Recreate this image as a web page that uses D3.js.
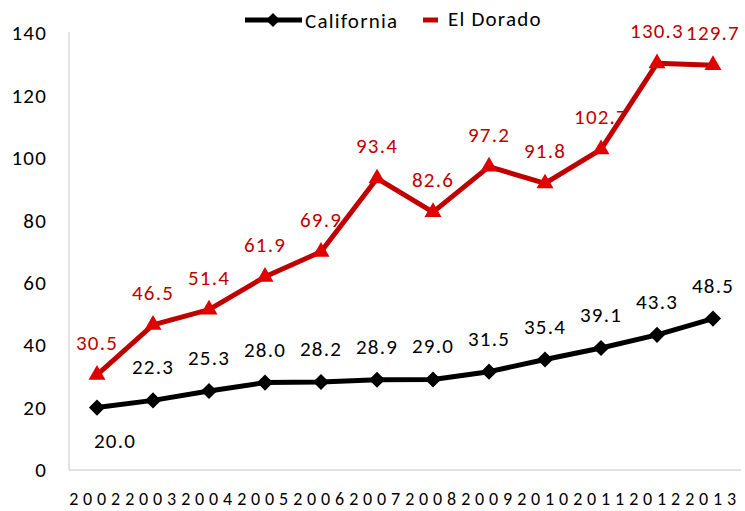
<!DOCTYPE html>
<html lang="en">
<head>
<meta charset="utf-8">
<style>
  body { margin: 0; background: #fff; }
  svg text { font-family: Carlito, Calibri, Lato, "Open Sans", sans-serif; }
</style>
</head>
<body>
<div id="chart"></div>
<script src="https://cdnjs.cloudflare.com/ajax/libs/d3/7.8.5/d3.min.js"></script>
<script>
const years = ["2002", "2003", "2004", "2005", "2006", "2007", "2008", "2009", "2010", "2011", "2012", "2013"];
const california = [20.0, 22.3, 25.3, 28.0, 28.2, 28.9, 29.0, 31.5, 35.4, 39.1, 43.3, 48.5];
const elDorado = [30.5, 46.5, 51.4, 61.9, 69.9, 93.4, 82.6, 97.2, 91.8, 102.7, 130.3, 129.7];
const yTicks = [0, 20, 40, 60, 80, 100, 120, 140];

const width = 745, height = 511;
const plotLeft = 69, plotRight = 741, plotTop = 33, plotBottom = 470;
const black = "#000000", red = "#C00000", redFill = "#E00000";
const fs = 21, ls = 1.2;

const svg = d3.select("#chart")
  .append("svg")
  .attr("width", width)
  .attr("height", height);

const x = d3.scaleBand()
  .domain(years)
  .range([plotLeft, plotRight]);

const y = d3.scaleLinear()
  .domain([0, 140])
  .range([plotBottom, plotTop]);

const cx = d => x(d) + x.bandwidth() / 2;

// axis lines (light grey, no gridlines)
svg.append("line")
  .attr("x1", plotLeft).attr("x2", plotLeft)
  .attr("y1", plotTop - 1).attr("y2", plotBottom)
  .attr("stroke", "#d9d9d9").attr("stroke-width", 1.5);
svg.append("line")
  .attr("x1", plotLeft).attr("x2", plotRight)
  .attr("y1", plotBottom).attr("y2", plotBottom)
  .attr("stroke", "#d9d9d9").attr("stroke-width", 1.5);

// y tick labels
svg.append("g")
  .attr("transform", `translate(${plotLeft}, 0)`)
  .call(d3.axisLeft(y).tickValues(yTicks).tickSize(0).tickPadding(22))
  .call(g => g.select(".domain").remove())
  .call(g => g.selectAll("text")
    .attr("font-size", fs)
    .attr("letter-spacing", ls)
    .attr("fill", "#000")
    .style("font-family", "Carlito, Calibri, Lato, sans-serif"));

// x tick labels, spaced out so they run together like the original
svg.append("g")
  .selectAll("text")
  .data(years)
  .join("text")
  .attr("x", d => cx(d))
  .attr("y", 505)
  .attr("text-anchor", "middle")
  .attr("font-size", 18)
  .attr("letter-spacing", 4.8)
  .attr("fill", "#000")
  .text(d => d);

const line = d3.line()
  .x((d, i) => cx(years[i]))
  .y(d => y(d));

// California
svg.append("path")
  .datum(california)
  .attr("d", line)
  .attr("fill", "none")
  .attr("stroke", black)
  .attr("stroke-width", 5)
  .attr("stroke-linejoin", "round");

svg.append("g")
  .selectAll("path")
  .data(california)
  .join("path")
  .attr("d", d3.symbol(d3.symbolSquare, 130))
  .attr("transform", (d, i) => `translate(${cx(years[i])},${y(d)}) rotate(45)`)
  .attr("fill", black);

svg.append("g")
  .selectAll("text")
  .data(california)
  .join("text")
  .attr("x", (d, i) => cx(years[i]) + (i === 0 ? 18 : 0))
  .attr("y", (d, i) => i === 0 ? y(d) + 40 : y(d) - 26)
  .attr("text-anchor", "middle")
  .attr("font-size", fs)
  .attr("letter-spacing", ls)
  .attr("fill", black)
  .text(d => d.toFixed(1));

// El Dorado
svg.append("path")
  .datum(elDorado)
  .attr("d", line)
  .attr("fill", "none")
  .attr("stroke", red)
  .attr("stroke-width", 5)
  .attr("stroke-linejoin", "round");

svg.append("g")
  .selectAll("path")
  .data(elDorado)
  .join("path")
  .attr("d", d3.symbol(d3.symbolTriangle, 125))
  .attr("transform", (d, i) => `translate(${cx(years[i])},${y(d)})`)
  .attr("fill", redFill);

svg.append("g")
  .selectAll("text")
  .data(elDorado)
  .join("text")
  .attr("x", (d, i) => cx(years[i]))
  .attr("y", d => y(d) - 25)
  .attr("text-anchor", "middle")
  .attr("font-size", fs)
  .attr("letter-spacing", ls)
  .attr("fill", red)
  .text(d => d.toFixed(1));

// legend
const legend = svg.append("g");
legend.append("line")
  .attr("x1", 245).attr("x2", 302).attr("y1", 20).attr("y2", 20)
  .attr("stroke", black).attr("stroke-width", 5);
legend.append("path")
  .attr("d", d3.symbol(d3.symbolSquare, 100))
  .attr("transform", "translate(273,20) rotate(45)")
  .attr("fill", black);
legend.append("text")
  .attr("x", 305).attr("y", 28)
  .attr("font-size", fs)
  .attr("letter-spacing", ls)
  .text("California");
legend.append("line")
  .attr("x1", 423).attr("x2", 438).attr("y1", 20).attr("y2", 20)
  .attr("stroke", red).attr("stroke-width", 5);
legend.append("text")
  .attr("x", 448).attr("y", 26)
  .attr("font-size", fs)
  .attr("letter-spacing", ls)
  .text("El Dorado");
</script>
</body>
</html>
